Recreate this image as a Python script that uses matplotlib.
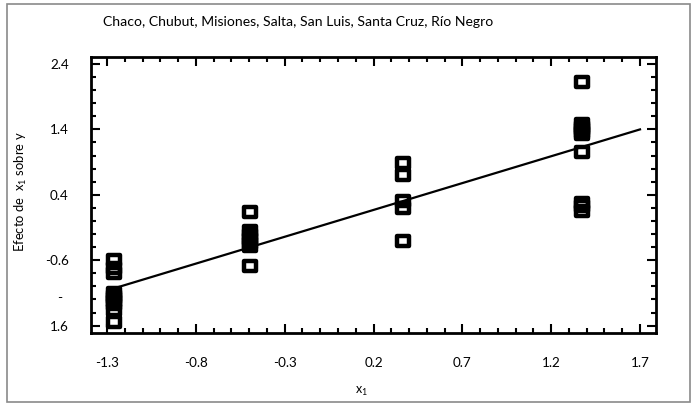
import matplotlib
matplotlib.use('Agg')
import matplotlib.pyplot as plt
from matplotlib.path import Path
from matplotlib.patches import Rectangle
from matplotlib.ticker import FixedLocator, MultipleLocator
from matplotlib.transforms import ScaledTranslation

plt.rcParams['font.family'] = ['Lato', 'DejaVu Sans']
plt.rcParams['mathtext.fontset'] = 'custom'
plt.rcParams['mathtext.rm'] = 'Lato'
plt.rcParams['mathtext.it'] = 'Lato'
plt.rcParams['mathtext.default'] = 'regular'

# ---------------- data ----------------
title = "Chaco, Chubut, Misiones, Salta, San Luis, Santa Cruz, Río Negro"
ylabel = "Efecto de  x$_{1}$ sobre y"
xlabel = "x$_{1}$"

group_x = [-1.26, -0.495, 0.365, 1.375]
g1_y = [-0.60, -0.72, -0.80, -1.10, -1.14, -1.18, -1.22, -1.27, -1.36, -1.55]
g2_y = [0.13, -0.15, -0.21, -0.27, -0.33, -0.39, -0.69]
g3_y = [0.88, 0.70, 0.31, 0.20, -0.31]
g4_y = [2.13, 1.48, 1.44, 1.40, 1.36, 1.33, 1.05, 0.28, 0.23, 0.15]

line_x = [-1.26, 1.70]
line_y = [-1.03, 1.40]

x_ticks = [-1.3, -0.8, -0.3, 0.2, 0.7, 1.2, 1.7]
x_ticklabels = ['-1.3', '-0.8', '-0.3', '0.2', '0.7', '1.2', '1.7']
y_ticks = [2.4, 1.4, 0.4, -0.6, -1.6]
y_ticklabels = ['2.4', '1.4', '0.4', '-0.6', '-\n1.6']

# ---------------- figure ----------------
W, H = 697, 404
fig = plt.figure(figsize=(W / 100, H / 100), dpi=100)
ax = fig.add_axes([91 / W, 1 - 333 / H, (656 - 91) / W, (333 - 57) / H])

# open rectangle marker (wider than tall)
rect = Path([(-0.5, -0.42), (0.5, -0.42), (0.5, 0.42), (-0.5, 0.42), (-0.5, -0.42)],
            [Path.MOVETO, Path.LINETO, Path.LINETO, Path.LINETO, Path.CLOSEPOLY])

ax.plot(line_x, line_y, color='black', lw=1.6, zorder=2)

for gx, gy in zip(group_x, [g1_y, g2_y, g3_y, g4_y]):
    ax.plot([gx] * len(gy), gy, linestyle='none', marker=rect, markersize=8.4,
            markerfacecolor='none', markeredgecolor='black', markeredgewidth=3.2,
            zorder=3)

ax.set_xlim(-1.39, 1.79)
ax.set_ylim(-1.713, 2.507)

ax.xaxis.set_major_locator(FixedLocator(x_ticks))
ax.xaxis.set_minor_locator(MultipleLocator(0.1))
ax.yaxis.set_major_locator(FixedLocator(y_ticks))
ax.yaxis.set_minor_locator(MultipleLocator(0.2))
ax.set_xticklabels(x_ticklabels)
ax.set_yticklabels(y_ticklabels)

ax.tick_params(which='both', direction='in', top=True, right=True, width=1.5,
               color='black', labelsize=9.7)
ax.tick_params(which='major', length=6.5)
ax.tick_params(which='minor', length=3.6)
ax.tick_params(axis='x', which='major', pad=17)
ax.tick_params(axis='y', which='major', pad=16)

for s in ax.spines.values():
    s.set_linewidth(2.0)
    s.set_color('black')

# last y label: wrapped "-1.6"
lab = ax.get_yticklabels()[-1]
lab.set_multialignment('center')
lab.set_linespacing(2.75)
lab.set_va('bottom')
lab.set_transform(lab.get_transform() + ScaledTranslation(0, -0.075, fig.dpi_scale_trans))

t_title = fig.text(103 / W, 1 - 22 / H, title, ha='left', va='center', fontsize=10)
t_ylab = fig.text(21 / W, 1 - 192 / H, ylabel, rotation=90, ha='center', va='center', fontsize=8)
t_xlab = fig.text(361 / W, 1 - 391 / H, xlabel, ha='center', va='center', fontsize=9)

# fit text sizes to reference widths
fig.canvas.draw()
r = fig.canvas.get_renderer()
w = t_title.get_window_extent(r).width
t_title.set_fontsize(10 * 389 / w)
h = t_ylab.get_window_extent(r).height
t_ylab.set_fontsize(8 * 121 / h)

# outer grey border
fig.patches.append(Rectangle((7 / W, 1 - 402 / H), (690 - 7) / W, (402 - 4) / H,
                             transform=fig.transFigure, fill=False,
                             edgecolor='#8a8a8a', linewidth=1.2))

fig.savefig('out.png', dpi=100)
